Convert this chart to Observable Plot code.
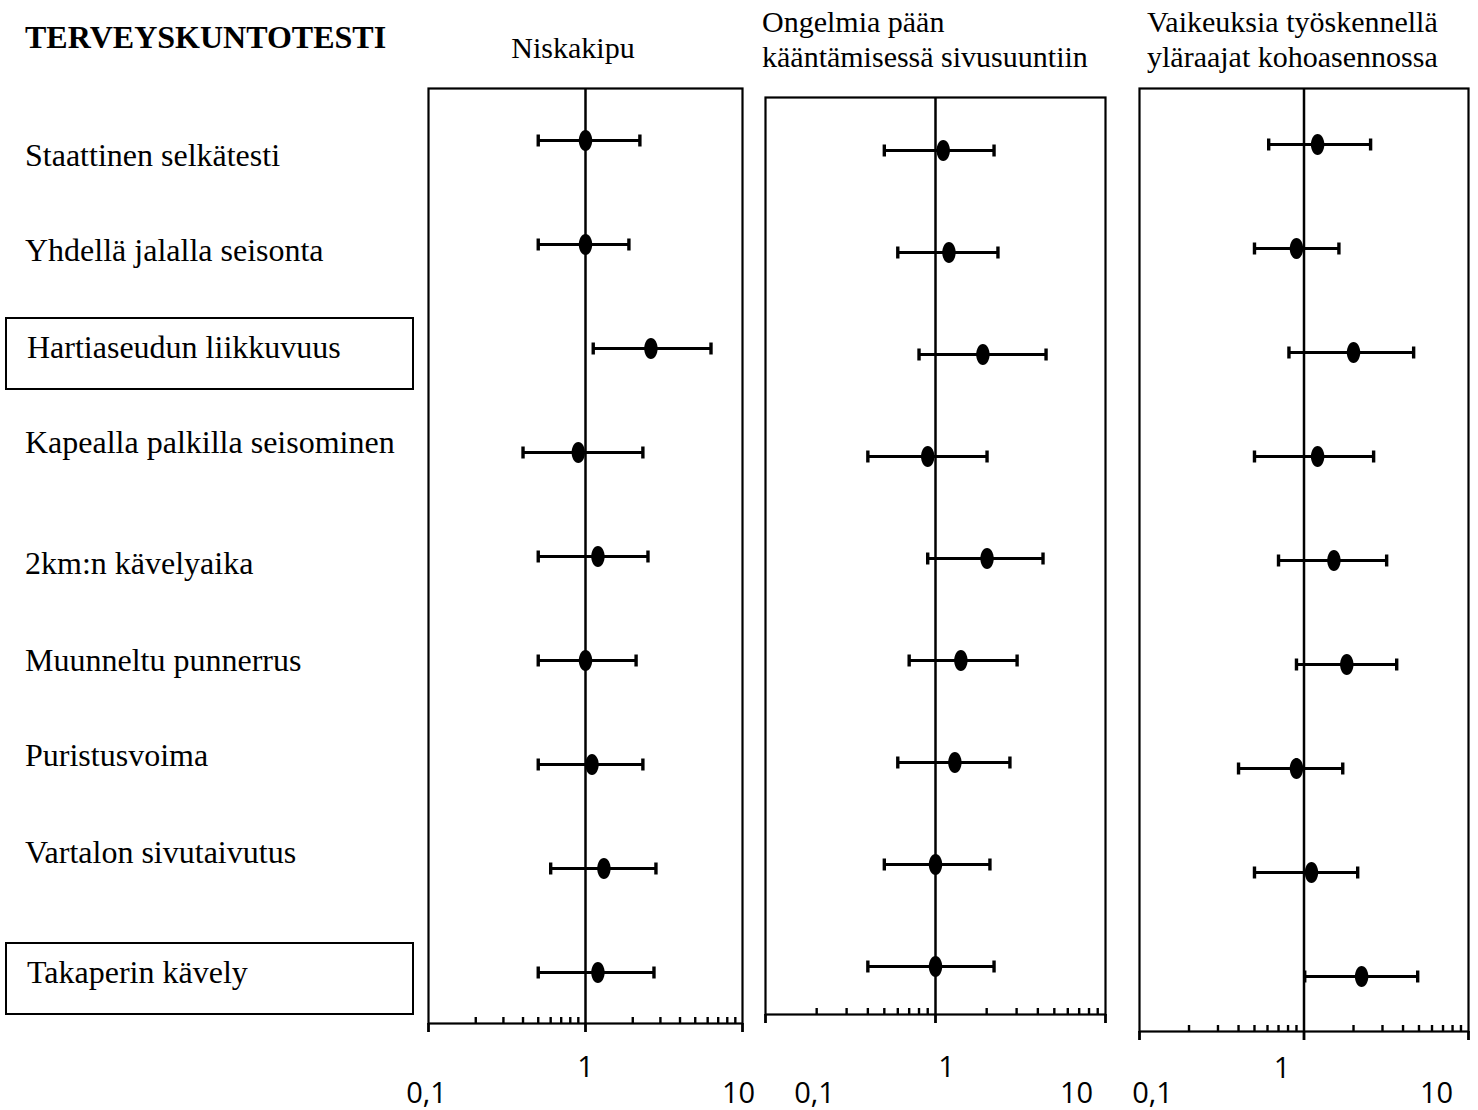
<!DOCTYPE html>
<html>
<head>
<meta charset="utf-8">
<script src="https://cdn.jsdelivr.net/npm/d3@7"></script>
<script src="https://cdn.jsdelivr.net/npm/@observablehq/plot@0.6"></script>
<style>
  html, body { margin: 0; padding: 0; background: #fff; }
  body { width: 1478px; height: 1110px; position: relative; overflow: hidden; }
  .t { position: absolute; font-family: "Liberation Serif", "Times New Roman", serif; color: #000; white-space: nowrap; line-height: 40px; height: 40px; }
  .box { position: absolute; border: 2px solid #000; box-sizing: border-box; }
  .panel { position: absolute; top: 0; }
</style>
</head>
<body>
<script>
// ---------- data ----------
const header = "TERVEYSKUNTOTESTI";
const categories = [
  "Staattinen selkätesti",
  "Yhdellä jalalla seisonta",
  "Hartiaseudun liikkuvuus",
  "Kapealla palkilla seisominen",
  "2km:n kävelyaika",
  "Muunneltu punnerrus",
  "Puristusvoima",
  "Vartalon sivutaivutus",
  "Takaperin kävely"
];
const boxedCategories = ["Hartiaseudun liikkuvuus", "Takaperin kävely"];

const panelTitles = [
  ["Niskakipu"],
  ["Ongelmia pään", "kääntämisessä sivusuuntiin"],
  ["Vaikeuksia työskennellä", "yläraajat kohoasennossa"]
];

// Niskakipu
const niskaOR = [1.00, 1.00, 2.61, 0.90, 1.20, 1.00, 1.10, 1.31, 1.20];
const niskaLo = [0.50, 0.50, 1.12, 0.40, 0.50, 0.50, 0.50, 0.60, 0.50];
const niskaHi = [2.22, 1.89, 6.30, 2.32, 2.50, 2.10, 2.32, 2.81, 2.73];
// Ongelmia pään kääntämisessä sivusuuntiin
const kaantoOR = [1.11, 1.20, 1.90, 0.90, 2.01, 1.41, 1.30, 1.00, 1.00];
const kaantoLo = [0.50, 0.60, 0.80, 0.40, 0.90, 0.70, 0.60, 0.50, 0.40];
const kaantoHi = [2.21, 2.33, 4.47, 2.01, 4.29, 3.02, 2.74, 2.09, 2.21];
// Vaikeuksia työskennellä yläraajat kohoasennossa
const ylaOR = [1.21, 0.90, 2.00, 1.21, 1.52, 1.82, 0.90, 1.11, 2.24];
const ylaLo = [0.61, 0.50, 0.81, 0.50, 0.70, 0.90, 0.40, 0.50, 1.01];
const ylaHi = [2.54, 1.63, 4.64, 2.65, 3.18, 3.66, 1.72, 2.12, 4.91];

const majorTicks = [0.1, 1, 10];
const tickLabels = ["0,1", "1", "10"];
const minorTicks = [0.2, 0.3, 0.4, 0.5, 0.6, 0.7, 0.8, 0.9, 2, 3, 4, 5, 6, 7, 8, 9];

// ---------- layout (page pixels) ----------
const labelCenters = [155, 250, 347, 442, 563, 660, 755, 852, 972];
const panelLayout = [
  {left: 408, width: 354, mr: 20, top: 88, axis: 1023, rows: [139, 973],
   tdx: [-2, 0, -4], tdy: [70, 44, 70], titleX: 573, titleCenter: true, titleY: [48]},
  {left: 745, width: 380, mr: 20, top: 97, axis: 1014, rows: [149, 966],
   tdx: [49, 11, -29], tdy: [79, 53, 79], titleX: 762, titleCenter: false, titleY: [22, 57]},
  {left: 1119, width: 359, mr: 10, top: 88, axis: 1031, rows: [140, 979],
   tdx: [13, -22, -32], tdy: [62, 37, 62], titleX: 1147, titleCenter: false, titleY: [22, 57]}
];
const panelSeries = [
  [niskaOR, niskaLo, niskaHi],
  [kaantoOR, kaantoLo, kaantoHi],
  [ylaOR, ylaLo, ylaHi]
];

// ---------- text (HTML) ----------
function addText(txt, left, centerY, size, opts = {}) {
  const d = document.createElement("div");
  d.className = "t";
  d.textContent = txt;
  d.style.fontSize = size + "px";
  d.style.top = (centerY - 20) + "px";
  d.style.left = left + "px";
  if (opts.center) d.style.transform = "translateX(-50%)";
  if (opts.bold) d.style.fontWeight = "bold";
  document.body.appendChild(d);
}
addText(header, 25, 37, 32, {bold: true});
categories.forEach((c, i) => {
  addText(c, boxedCategories.includes(c) ? 27 : 25, labelCenters[i], 32);
  if (boxedCategories.includes(c)) {
    const b = document.createElement("div");
    b.className = "box";
    b.style.left = "5px"; b.style.width = "409px";
    b.style.top = (labelCenters[i] - 30) + "px"; b.style.height = "73px";
    document.body.appendChild(b);
  }
});
panelTitles.forEach((lines, p) => {
  const L = panelLayout[p];
  lines.forEach((ln, j) => addText(ln, L.titleX, L.titleY[j], 30, {center: L.titleCenter}));
});

// ---------- symbols ----------
const ellipseSym = {
  draw(ctx, size) {
    const r = Math.sqrt(size / Math.PI), rx = r * 0.64, ry = r, k = 0.5523;
    ctx.moveTo(rx, 0);
    ctx.bezierCurveTo(rx, ry * k, rx * k, ry, 0, ry);
    ctx.bezierCurveTo(-rx * k, ry, -rx, ry * k, -rx, 0);
    ctx.bezierCurveTo(-rx, -ry * k, -rx * k, -ry, 0, -ry);
    ctx.bezierCurveTo(rx * k, -ry, rx, -ry * k, rx, 0);
    ctx.closePath();
  }
};
const capSym = {
  draw(ctx, size) {
    const r = Math.sqrt(size / Math.PI);
    ctx.moveTo(0, -r); ctx.lineTo(0, r);
  }
};

// ---------- panels ----------
panelLayout.forEach((L, p) => {
  const [or, lo, hi] = panelSeries[p];
  const rows = categories.map((c, i) => ({label: c, or: or[i], lo: lo[i], hi: hi[i]}));
  const marks = [
    Plot.frame({stroke: "#000", strokeWidth: 2.2}),
    Plot.ruleX([1], {stroke: "#000", strokeWidth: 2.5}),
    Plot.axisX({ticks: majorTicks, tickSize: 9, tickFormat: () => "", stroke: "#000", strokeWidth: 2.8, label: null, anchor: "bottom"}),
    Plot.axisX({ticks: minorTicks, tickSize: 6, dy: -6, tickFormat: () => "", stroke: "#000", strokeWidth: 2.4, label: null, anchor: "bottom"}),
    Plot.ruleY(rows, {y: "label", x1: "lo", x2: "hi", stroke: "#000", strokeWidth: 3}),
    Plot.dot(rows, {y: "label", x: "lo", r: 6, symbol: capSym, stroke: "#000", strokeWidth: 3.4, fill: "none"}),
    Plot.dot(rows, {y: "label", x: "hi", r: 6, symbol: capSym, stroke: "#000", strokeWidth: 3.4, fill: "none"}),
    Plot.dot(rows, {y: "label", x: "or", r: 10.5, symbol: ellipseSym, fill: "#000", stroke: "none"})
  ];
  majorTicks.forEach((t, j) => {
    marks.push(Plot.text([t], {
      x: d => d, frameAnchor: "bottom", text: () => tickLabels[j],
      dx: L.tdx[j], dy: L.tdy[j], lineAnchor: "middle", textAnchor: "middle",
      fontSize: 29, fontFamily: "Open Sans", fill: "#000"
    }));
  });
  const svg = Plot.plot({
    width: L.width,
    height: 1110,
    marginLeft: 20,
    marginRight: L.mr,
    marginTop: L.top,
    marginBottom: 1110 - L.axis,
    x: {type: "log", domain: [0.1, 10], label: null},
    y: {type: "point", domain: categories, range: L.rows, padding: 0, axis: null},
    style: {background: "transparent", overflow: "visible"},
    marks
  });
  const wrap = document.createElement("div");
  wrap.className = "panel";
  wrap.style.left = L.left + "px";
  wrap.appendChild(svg);
  document.body.appendChild(wrap);
});
</script>
</body>
</html>
